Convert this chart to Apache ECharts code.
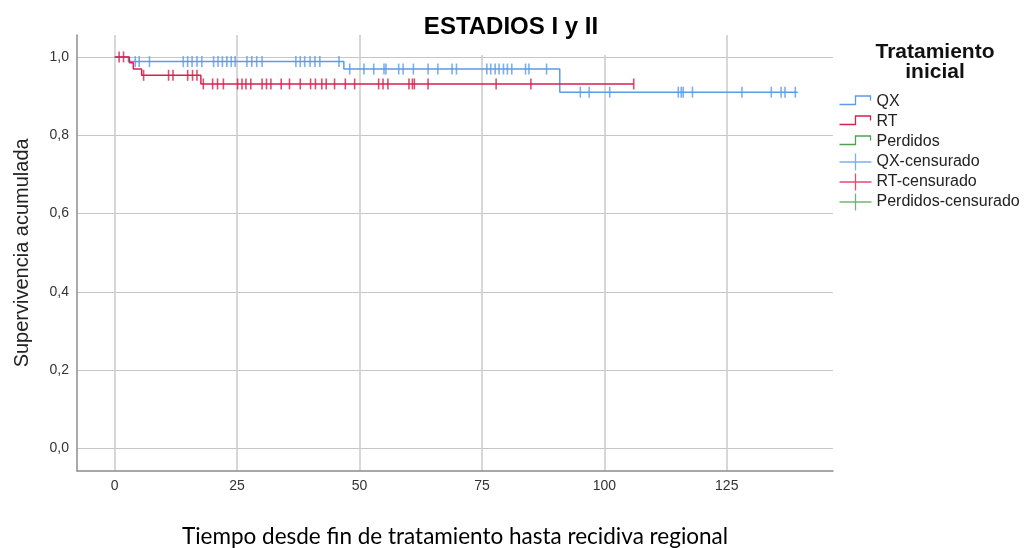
<!DOCTYPE html>
<html>
<head>
<meta charset="utf-8">
<script src="https://cdn.jsdelivr.net/npm/echarts@6/dist/echarts.min.js"></script>
<style>
  html, body { margin: 0; padding: 0; background: #fff; }
  #chart { width: 1031px; height: 548px; }
</style>
</head>
<body>
<div id="chart"></div>
<script>
// Kaplan-Meier curves: time of each change and cumulative survival from that time on
const qxTimes = [0, 2.8, 46.8, 90.9, 139.5];
const qxSurv  = [1.0, 0.988, 0.969, 0.910, 0.910];
const rtTimes = [0, 3.0, 3.8, 5.5, 17.6, 106.0];
const rtSurv  = [1.0, 0.985, 0.969, 0.953, 0.931, 0.931];

// Censored observations (time)
const qxCensored = [4.2, 5.0, 7.1, 14.0, 14.9, 15.8, 16.8, 17.8, 20.2, 21.1, 22.0, 22.9, 23.8, 24.6,
  27.0, 28.0, 29.0, 30.1, 37.0, 37.9, 38.8, 39.9, 40.9, 41.9, 45.8, 48.0, 50.9, 52.9, 55.0, 55.4,
  58.0, 58.9, 61.0, 64.0, 66.0, 68.9, 69.8, 76.0, 76.8, 77.7, 78.5, 79.4, 80.2, 81.1, 83.9, 84.6,
  88.2, 95.1, 96.9, 101.1, 115.1, 115.7, 116.1, 118.0, 128.1, 134.1, 136.1, 136.9, 139.0];
const rtCensored = [0.9, 1.8, 5.9, 11.0, 11.9, 14.9, 15.9, 16.8, 18.1, 20.0, 21.0, 22.2, 25.1, 26.0,
  26.8, 27.8, 30.1, 31.0, 31.9, 34.0, 35.7, 37.9, 40.0, 41.0, 42.3, 43.2, 44.9, 47.1, 49.0, 53.9,
  54.8, 55.8, 60.1, 60.8, 61.2, 64.0, 77.9, 85.0, 106.0];

const groupNames = ['QX', 'RT', 'Perdidos'];
const censoredNames = ['QX-censurado', 'RT-censurado', 'Perdidos-censurado'];
const xTicks = [0, 25, 50, 75, 100, 125];
const yTicks = [0, 0.2, 0.4, 0.6, 0.8, 1.0];

const colors = ['#5b9be8', '#d8204e', '#4ea24e'];
const FONT = 'Liberation Sans, Arial, sans-serif';

function survivalAt(times, surv, t) {
  let s = surv[0];
  for (let i = 0; i < times.length; i++) if (times[i] <= t) s = surv[i];
  return s;
}
function curve(times, surv) { return times.map((t, i) => [t, surv[i]]); }
function marks(cens, times, surv) { return cens.map(t => [t, survivalAt(times, surv, t)]); }

// Legend glyphs: a step for the curves, a cross for the censored marks
const stepIcon = 'path://M0,0 M0,11 L16,11 L16,2.5 L31,2.5 L31,7 M32,17';
const crossIcon = 'path://M0,8.5 L32,8.5 M16,0 L16,17';

const legendData = [];
groupNames.forEach((n, i) => legendData.push({
  name: n, icon: stepIcon,
  itemStyle: { color: 'none', borderColor: colors[i], borderWidth: 1.3 }
}));
censoredNames.forEach((n, i) => legendData.push({
  name: n, icon: crossIcon,
  itemStyle: { color: 'none', borderColor: colors[i], borderWidth: 1.3 }
}));

const lineData = [curve(qxTimes, qxSurv), curve(rtTimes, rtSurv), []];
const markData = [marks(qxCensored, qxTimes, qxSurv), marks(rtCensored, rtTimes, rtSurv), []];

const series = [];
groupNames.forEach((n, i) => series.push({
  name: n, type: 'line', step: 'end', data: lineData[i],
  showSymbol: false, symbol: 'none', silent: true, z: 3,
  lineStyle: { color: colors[i], width: 1.5 }, itemStyle: { color: colors[i] }
}));
censoredNames.forEach((n, i) => series.push({
  name: n, type: 'scatter', data: markData[i], z: 4, silent: true,
  symbol: 'rect', symbolSize: [1.6, 11],
  itemStyle: { color: colors[i] }
}));

const chart = echarts.init(document.getElementById('chart'), null, { renderer: 'canvas' });
chart.setOption({
  animation: false,
  backgroundColor: '#fff',
  title: [
    {
      text: 'ESTADIOS I y II', left: 503, top: 15, textAlign: 'center',
      backgroundColor: '#fff', padding: [0, 8, 16, 8],
      textStyle: { fontFamily: FONT, fontSize: 24, fontWeight: 'bold', color: '#000', lineHeight: 24 }
    },
    {
      text: 'Tratamiento\ninicial', left: 935, top: 42, textAlign: 'center', padding: 0,
      textStyle: { fontFamily: FONT, fontSize: 21, fontWeight: 'bold', color: '#111', lineHeight: 20 }
    }
  ],
  legend: {
    orient: 'vertical', left: 837, top: 91, padding: 0,
    itemWidth: 32, itemHeight: 17, itemGap: -2,
    selectedMode: false,
    textStyle: { fontFamily: FONT, fontSize: 16, color: '#222', lineHeight: 16, padding: [0, 0, 0, 0] },
    data: legendData
  },
  grid: { left: 77, right: 198, top: 35, bottom: 77.3, containLabel: false, outerBoundsMode: 'none' },
  xAxis: {
    type: 'value', min: -7.7, max: 146.7,
    name: 'Tiempo desde fin de tratamiento hasta recidiva regional',
    nameLocation: 'middle', nameGap: 55,
    nameTextStyle: { fontFamily: 'Lato, Carlito, sans-serif', fontSize: 22.5, color: '#000' },
    axisLine: { show: true, onZero: false, lineStyle: { color: '#8c8c8c', width: 1.5 } },
    axisTick: { show: false, customValues: xTicks },
    axisLabel: { customValues: xTicks, margin: 8, fontFamily: FONT, fontSize: 14, color: '#333',
      formatter: v => String(v) },
    splitLine: { show: true, lineStyle: { color: '#cdcdcd', width: 1.6 } }
  },
  yAxis: {
    type: 'value', min: -0.057, max: 1.056,
    name: 'Supervivencia acumulada',
    nameLocation: 'middle', nameGap: 45,
    nameTextStyle: { fontFamily: FONT, fontSize: 20, color: '#222' },
    axisLine: { show: true, onZero: false, lineStyle: { color: '#8c8c8c', width: 1.5 } },
    axisTick: { show: false, customValues: yTicks },
    axisLabel: { customValues: yTicks, margin: 8, fontFamily: FONT, fontSize: 14, color: '#333',
      formatter: v => v.toFixed(1).replace('.', ',') },
    splitLine: { show: true, lineStyle: { color: '#c6c6c6', width: 1.2 } }
  },
  series: series
});
</script>
</body>
</html>
